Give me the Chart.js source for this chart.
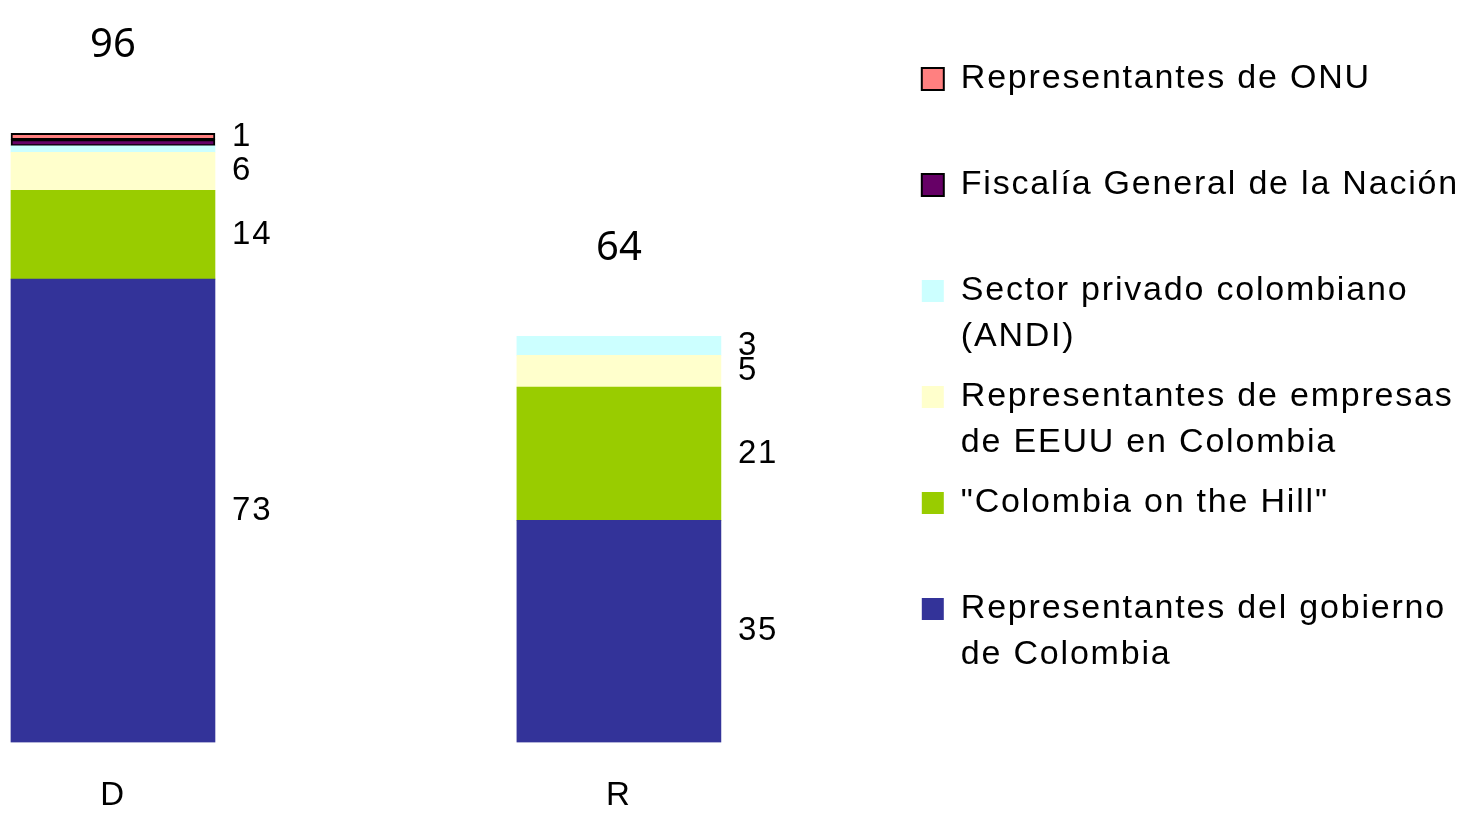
<!DOCTYPE html>
<html>
<head>
<meta charset="utf-8">
<script src="https://cdn.jsdelivr.net/npm/chart.js@4"></script>
<style>
  html, body { margin: 0; padding: 0; background: #fff; overflow: hidden; }
  #wrap { width: 1469px; height: 813px; position: relative; }
</style>
</head>
<body>
<div id="wrap"><canvas id="ctx"></canvas></div>
<script>
// categories on the x axis
const categories = ['D', 'R'];

// series, bottom of the stack first
const gobierno = [73, 35];
const colombiaHill = [14, 21];
const empresasEEUU = [6, 5];
const sectorPrivado = [1, 3];
const fiscalia = [1, 0];
const onu = [1, 0];

const seriesNames = [
    'Representantes del gobierno de Colombia',
    '"Colombia on the Hill"',
    'Representantes de empresas de EEUU en Colombia',
    'Sector privado colombiano (ANDI)',
    'Fiscalía General de la Nación',
    'Representantes de ONU'
];
// legend text split in lines like the original
const legendLines = [
    ['Representantes del gobierno', 'de Colombia'],
    ['"Colombia on the Hill"', ''],
    ['Representantes de empresas', 'de EEUU en Colombia'],
    ['Sector privado colombiano', '(ANDI)'],
    ['Fiscalía General de la Nación', ''],
    ['Representantes de ONU', '']
];
const seriesValues = [gobierno, colombiaHill, empresasEEUU, sectorPrivado, fiscalia, onu];
const seriesColors = ['#333399', '#99CC00', '#FFFFCC', '#CCFFFF', '#660066', '#FF8080'];
const seriesBorders = [0, 0, 0, 0, 2, 2];

const FONT = '"Liberation Sans", Arial, sans-serif';

// excel-ish wide letter spacing
const spacing = {
    id: 'spacing',
    beforeLayout(chart) { chart.ctx.letterSpacing = '1.8px'; },
    beforeDraw(chart) { chart.ctx.letterSpacing = '1.8px'; }
};

const barLabels = {
    id: 'barLabels',
    afterDatasetsDraw(chart) {
        const ctx = chart.ctx;
        ctx.save();
        ctx.fillStyle = '#000';
        ctx.textBaseline = 'middle';
        categories.forEach((c, i) => {
            let lastY = null;
            let top = Infinity;
            let total = 0;
            let cx = 0;
            for (let d = chart.data.datasets.length - 1; d >= 0; d--) {
                const v = seriesValues[d][i];
                const el = chart.getDatasetMeta(d).data[i];
                if (!el || !v) continue;
                total += v;
                top = Math.min(top, el.y);
                cx = el.x;
                const cy = (el.y + el.base) / 2;
                if (lastY !== null && cy - lastY < 22) continue;
                lastY = cy;
                ctx.font = '33px ' + FONT;
                ctx.textAlign = 'left';
                ctx.fillText(String(v), el.x + el.width / 2 + 17, cy);
            }
            ctx.letterSpacing = '0px';
            ctx.font = '40px "Noto Sans", "Open Sans", sans-serif';
            ctx.textAlign = 'center';
            ctx.fillText(String(total), cx, top - 88);
            ctx.letterSpacing = '1.8px';
        });
        ctx.restore();
    }
};

const datasets = seriesNames.map((name, k) => ({
    label: name,
    data: seriesValues[k].map((v, i) => ({ x: i, y: v })),
    backgroundColor: seriesColors[k],
    borderColor: '#000',
    borderWidth: seriesBorders[k],
    borderSkipped: false,
    barThickness: 204
}));

new Chart(document.getElementById('ctx'), {
    type: 'bar',
    data: { datasets: datasets },
    plugins: [spacing, barLabels],
    options: {
        responsive: true,
        maintainAspectRatio: false,
        animation: false,
        layout: { padding: { top: 0, left: 0, bottom: -37, right: 0 } },
        scales: {
            x: {
                type: 'linear',
                stacked: true,
                offset: false,
                min: -0.2233,
                max: 1.571,
                grid: { display: false, drawTicks: false },
                border: { display: false },
                afterBuildTicks: (scale) => {
                    scale.ticks = categories.map((c, i) => ({ value: i }));
                },
                ticks: {
                    autoSkip: false,
                    maxRotation: 0,
                    padding: 34,
                    color: '#000',
                    font: { family: FONT, size: 33 },
                    callback: (v) => categories[v]
                }
            },
            y: {
                stacked: true,
                display: false,
                min: 0,
                max: 117
            }
        },
        plugins: {
            tooltip: { enabled: false },
            legend: {
                position: 'right',
                align: 'start',
                reverse: true,
                maxWidth: 565,
                title: { display: true, text: '', font: { size: 10 }, padding: { top: 36, bottom: 0 } },
                labels: {
                    color: '#000',
                    boxWidth: 22,
                    boxHeight: 22,
                    padding: 14,
                    font: { family: FONT, size: 34, lineHeight: 1.353 },
                    generateLabels: (chart) => {
                        const items = Chart.defaults.plugins.legend.labels.generateLabels(chart);
                        items.forEach(it => { it.text = legendLines[it.datasetIndex]; });
                        return items;
                    }
                }
            }
        }
    }
});
</script>
</body>
</html>
